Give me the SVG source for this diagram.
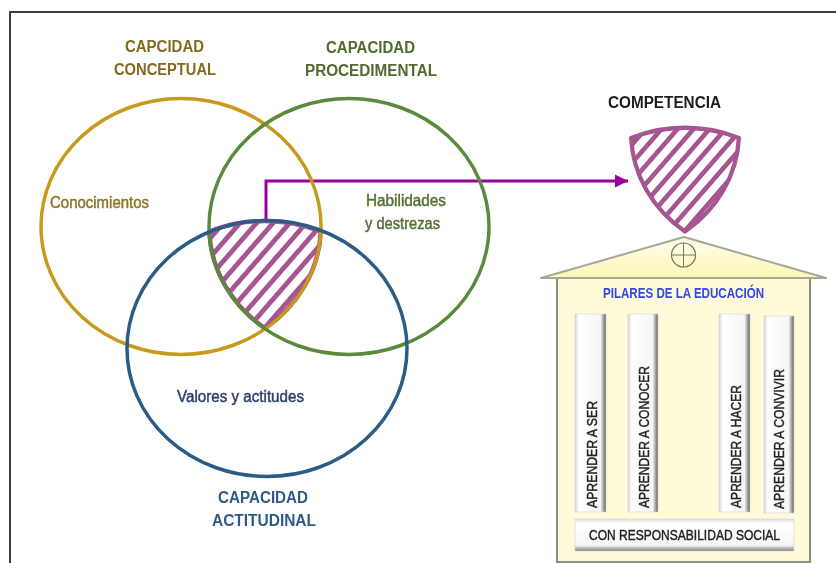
<svg xmlns="http://www.w3.org/2000/svg" width="836" height="563" viewBox="0 0 836 563">
<style>
.lbl{font-family:"Liberation Sans",Arial,sans-serif;font-weight:700;font-size:16px}
.reg{font-weight:400;stroke-width:.45}
.sm{font-family:"Liberation Sans",Arial,sans-serif;font-size:14px;fill:#222;stroke:#222;stroke-width:.4}
.ring{fill:none;stroke-width:3.5}
.shield{fill:url(#hatch);stroke:#a5548f;stroke-width:4.500;stroke-linejoin:round}
.pillar{fill:url(#pil);stroke:#d4d4d4;stroke-width:.6}
</style>
<defs>
<filter id="soft" filterUnits="userSpaceOnUse" x="0" y="0" width="836" height="563"><feGaussianBlur stdDeviation=".45"/></filter>
<pattern id="hatch" width="12.500" height="12.500" patternUnits="userSpaceOnUse" patternTransform="rotate(-49)">
<rect width="12.500" height="12.500" fill="#fff"/><rect width="12.500" height="4.800" fill="#a5548f"/>
</pattern>
<linearGradient id="pil" x1="0" x2="1" y1="0" y2="0"><stop offset="0" stop-color="#d4d4d4"/><stop offset=".12" stop-color="#fff"/><stop offset=".82" stop-color="#f6f6f6"/><stop offset="1" stop-color="#5f5f5f"/></linearGradient>
<linearGradient id="base" x1="0" x2="0" y1="0" y2="1"><stop offset="0" stop-color="#e0e0e0"/><stop offset=".14" stop-color="#fff"/><stop offset=".82" stop-color="#f6f6f6"/><stop offset="1" stop-color="#7d7d7d"/></linearGradient>
<linearGradient id="roof" x1="0" x2="0" y1="0" y2="1"><stop offset="0" stop-color="#fffef0"/><stop offset="1" stop-color="#fbf7b4"/></linearGradient>
<marker id="ah" markerUnits="userSpaceOnUse" markerWidth="14" markerHeight="14" refX="13" refY="7" orient="auto"><path d="M0 0.500L13 7L0 13.500Z" fill="#990099"/></marker>
<path id="sh" d="M209.200 231.500A140 128 0 0 1 320.800 231.500A140 128 0 0 1 265 328.400A140 128 0 0 1 209.200 231.500Z"/>
</defs>
<g filter="url(#soft)">
<rect id="frame" x="10" y="12" width="840" height="570" fill="#fff" stroke="#3c3c3c" stroke-width="2"/>
<g id="shield-overlap"><use href="#sh" class="shield"/></g>
<g id="connectors"><path d="M266 221V181H628" fill="none" stroke="#990099" stroke-width="3" marker-end="url(#ah)"/></g>
<g id="conceptual">
<ellipse class="ring" cx="181" cy="226.500" rx="140" ry="128" stroke="#c79a1e"/>
<text class="lbl" x="125" y="52" fill="#846a1e" textLength="79" lengthAdjust="spacingAndGlyphs">CAPCIDAD</text>
<text class="lbl" x="114" y="75" fill="#846a1e" textLength="102" lengthAdjust="spacingAndGlyphs">CONCEPTUAL</text>
<text class="lbl reg" x="50" y="208" fill="#8f7526" stroke="#8f7526" textLength="99" lengthAdjust="spacingAndGlyphs">Conocimientos</text>
</g>
<g id="procedimental">
<ellipse class="ring" cx="349" cy="226.500" rx="140" ry="128" stroke="#5b8a3c"/>
<text class="lbl" x="326" y="53" fill="#4f6b2c" textLength="89" lengthAdjust="spacingAndGlyphs">CAPACIDAD</text>
<text class="lbl" x="305" y="76" fill="#4f6b2c" textLength="132" lengthAdjust="spacingAndGlyphs">PROCEDIMENTAL</text>
<text class="lbl reg" x="366" y="206" fill="#55702f" stroke="#55702f" textLength="80" lengthAdjust="spacingAndGlyphs">Habilidades</text>
<text class="lbl reg" x="365" y="229" fill="#55702f" stroke="#55702f" textLength="75" lengthAdjust="spacingAndGlyphs">y destrezas</text>
</g>
<g id="actitudinal">
<ellipse class="ring" cx="267" cy="348.500" rx="140" ry="128" stroke="#2a5b85"/>
<text class="lbl" x="218" y="503" fill="#2f5a85" textLength="90" lengthAdjust="spacingAndGlyphs">CAPACIDAD</text>
<text class="lbl" x="212" y="526" fill="#2f5a85" textLength="104" lengthAdjust="spacingAndGlyphs">ACTITUDINAL</text>
<text class="lbl reg" x="177" y="402" fill="#2f3f6b" stroke="#2f3f6b" textLength="127" lengthAdjust="spacingAndGlyphs">Valores y actitudes</text>
</g>
<g id="competencia">
<use href="#sh" class="shield" transform="translate(685 138) scale(.965) translate(-265 -231.500)"/>
<text class="lbl" x="608" y="108" fill="#1e1e1e" textLength="113" lengthAdjust="spacingAndGlyphs">COMPETENCIA</text>
</g>
<g id="pilares">
<rect x="557" y="278" width="253" height="284" fill="#fffbd8" stroke="#8d8d85" stroke-width="2"/>
<path d="M684 237L826 278H541Z" fill="url(#roof)" stroke="#a8a896" stroke-width="2" stroke-linejoin="round"/>
<circle cx="683.500" cy="255" r="12" fill="none" stroke="#77775f" stroke-width="1.200"/>
<path d="M671.500 255H695.500M683.500 243V267" stroke="#77775f" stroke-width="1"/>
<text class="lbl" x="603" y="298" fill="#3344ee" textLength="161" lengthAdjust="spacingAndGlyphs" style="font-size:15px">PILARES DE LA EDUCACIÓN</text>
</g>
<g id="aprender-ser"><rect class="pillar" x="575" y="314" width="31" height="198"/>
<text class="sm" transform="translate(597 508) rotate(-90)" textLength="107" lengthAdjust="spacingAndGlyphs">APRENDER A SER</text></g>
<g id="aprender-conocer"><rect class="pillar" x="628" y="314" width="30" height="198"/>
<text class="sm" transform="translate(649 508) rotate(-90)" textLength="142" lengthAdjust="spacingAndGlyphs">APRENDER A CONOCER</text></g>
<g id="aprender-hacer"><rect class="pillar" x="719" y="314" width="31" height="198"/>
<text class="sm" transform="translate(741 508) rotate(-90)" textLength="123" lengthAdjust="spacingAndGlyphs">APRENDER A HACER</text></g>
<g id="aprender-convivir"><rect class="pillar" x="764" y="316" width="30" height="197"/>
<text class="sm" transform="translate(784 509) rotate(-90)" textLength="140" lengthAdjust="spacingAndGlyphs">APRENDER A CONVIVIR</text></g>
<g id="responsabilidad"><rect x="575" y="519" width="219" height="32" fill="url(#base)" stroke="#d4d4d4" stroke-width=".6"/>
<text class="sm" x="589" y="540" textLength="191" lengthAdjust="spacingAndGlyphs">CON RESPONSABILIDAD SOCIAL</text></g>
</g>
</svg>
